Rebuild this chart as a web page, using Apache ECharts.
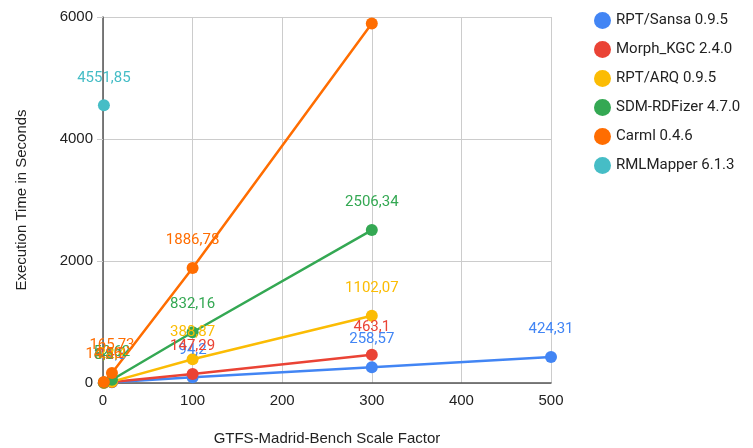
<!DOCTYPE html>
<html>
<head>
<meta charset="utf-8">
<script src="https://cdn.jsdelivr.net/npm/echarts@6/dist/echarts.min.js"></script>
<style>
  html, body { margin: 0; padding: 0; background: #fff; }
  #chart { width: 753px; height: 448px; }
</style>
</head>
<body>
<div id="chart"></div>
<script>
// scale factors and execution times (seconds) per engine
const sansa = [[1, 4.1], [10, 11.8], [100, 94.2], [300, 258.57], [500, 424.31]]
const morph = [[1, 3.2], [10, 14.9], [100, 147.29], [300, 463.1]]
const arq = [[1, 4.8], [10, 22.4], [100, 388.87], [300, 1102.07]]
const sdm = [[1, 6.5], [10, 52.62], [100, 832.16], [300, 2506.34]]
const carml = [[1, 14.56], [10, 165.73], [100, 1886.78], [300, 5893.4]]
const rmlmapper = [[1, 4551.85]]

const names = ['RPT/Sansa 0.9.5', 'Morph_KGC 2.4.0', 'RPT/ARQ 0.9.5', 'SDM-RDFizer 4.7.0', 'Carml 0.4.6', 'RMLMapper 6.1.3']
const colors = ['#4285f4', '#ea4335', '#fbbc04', '#34a853', '#ff6d01', '#46bdc6']
const xTicks = [0, 100, 200, 300, 400, 500]
const yTicks = [0, 2000, 4000, 6000]

const seriesData = [sansa, morph, arq, sdm, carml, rmlmapper]

const chart = echarts.init(document.getElementById('chart'))

chart.setOption({
  backgroundColor: '#fff',
  animation: false,
  textStyle: { fontFamily: 'Roboto, Arial, sans-serif' },
  legend: {
    orient: 'vertical',
    left: 589,
    top: 7,
    icon: 'circle',
    itemWidth: 17,
    itemHeight: 17,
    itemGap: 12,
    textStyle: { color: '#222', fontSize: 15, fontFamily: 'Roboto, sans-serif' },
    data: names
  },
  grid: { left: 103, right: 202, top: 17, bottom: 65, containLabel: false, outerBoundsMode: 'none' },
  xAxis: {
    type: 'value',
    min: 0,
    max: 500,
    interval: 100,
    name: 'GTFS-Madrid-Bench Scale Factor',
    nameLocation: 'middle',
    nameGap: 48,
    nameTextStyle: { color: '#222', fontSize: 15, fontFamily: 'Liberation Sans, Arial, sans-serif' },
    axisLine: { show: true, lineStyle: { color: '#555', width: 1.5 } },
    axisTick: { show: false },
    axisLabel: {
      color: '#222', fontSize: 15, margin: 10,
      fontFamily: 'Liberation Sans, Arial, sans-serif',
      formatter: v => xTicks.includes(v) ? String(v) : ''
    },
    splitLine: { show: true, lineStyle: { color: '#ccc', width: 1 } }
  },
  yAxis: {
    type: 'value',
    min: 0,
    max: 6000,
    interval: 2000,
    name: 'Execution Time in Seconds',
    nameLocation: 'middle',
    nameGap: 74,
    nameRotate: 90,
    nameTextStyle: { color: '#222', fontSize: 15, fontFamily: 'Liberation Sans, Arial, sans-serif' },
    axisLine: { show: true, lineStyle: { color: '#555', width: 1.5 } },
    axisTick: { show: true, length: 6, lineStyle: { color: '#ccc' } },
    axisLabel: {
      color: '#222', fontSize: 15, margin: 10,
      fontFamily: 'Liberation Sans, Arial, sans-serif',
      formatter: v => yTicks.includes(v) ? String(v) : ''
    },
    splitLine: { show: true, lineStyle: { color: '#ccc', width: 1 } }
  },
  series: seriesData.map((data, i) => ({
    name: names[i],
    type: 'line',
    data: data,
    color: colors[i],
    symbol: 'circle',
    symbolSize: 12,
    lineStyle: { width: 2.5, color: colors[i] },
    itemStyle: { color: colors[i] },
    label: {
      show: true,
      position: 'top',
      distance: 14,
      color: colors[i],
      fontSize: 15,
      fontFamily: 'Roboto, sans-serif',
      // the topmost label falls outside the canvas in the original
      formatter: p => p.value[1] > 5500 ? '' : String(p.value[1]).replace('.', ',')
    }
  }))
})
</script>
</body>
</html>
